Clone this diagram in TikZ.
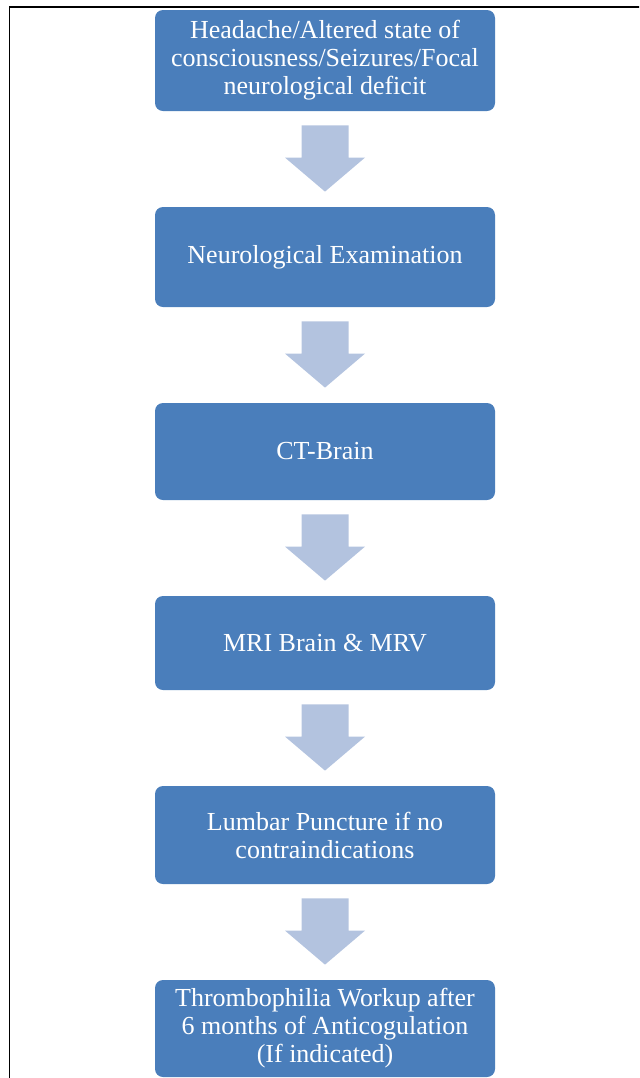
\documentclass[tikz,border=0pt]{standalone}
\usepackage{fontspec}
\setmainfont{Liberation Serif}
\usetikzlibrary{calc}
\definecolor{boxblue}{HTML}{4A7EBB}
\definecolor{arrowblue}{HTML}{B3C3DF}
\tikzset{
  stepbox/.style={fill=boxblue, rounded corners=4pt, text=white, align=center,
    minimum width=170pt, inner sep=0pt, font=\fontsize{13}{14}\selectfont},
  flowarrow/.style={fill=arrowblue}
}
\begin{document}
\begin{tikzpicture}[x=0.5pt, y=-0.5pt]
\clip (0,0) rectangle (639,1078);
\draw[line width=0.8pt] (9.5,1100) |- (700,7);
% steps
\node[stepbox, minimum height=50.5pt] (head) at (325,60.5) {Headache/Altered state of\\consciousness/Seizures/Focal\\neurological deficit};
\node[stepbox, minimum height=50pt] (exam) at (325,257) {Neurological Examination};
\node[stepbox, minimum height=48.5pt] (ct) at (325,451.5) {CT-Brain};
\node[stepbox, minimum height=47pt] (mri) at (325,643) {MRI Brain \& MRV};
\node[stepbox, minimum height=49pt] (lp) at (325,835) {Lumbar Puncture if no\\contraindications};
\node[stepbox, minimum height=48.5pt] (thromb) at (325,1028.5) {Thrombophilia Workup after\\6 months of Anticogulation\\(If indicated)};
% block arrows
\foreach \a/\b in {head/exam, exam/ct, ct/mri, mri/lp, lp/thromb}
  \fill[flowarrow] ($(\a.south)+(-23.5,14)$) -- ($(\a.south)+(23.5,14)$)
    -- ($(\b.north)+(23.5,-49)$) -- ($(\b.north)+(40,-49)$) -- ($(\b.north)+(0,-15)$)
    -- ($(\b.north)+(-40,-49)$) -- ($(\b.north)+(-23.5,-49)$) -- cycle;
\end{tikzpicture}
\end{document}
